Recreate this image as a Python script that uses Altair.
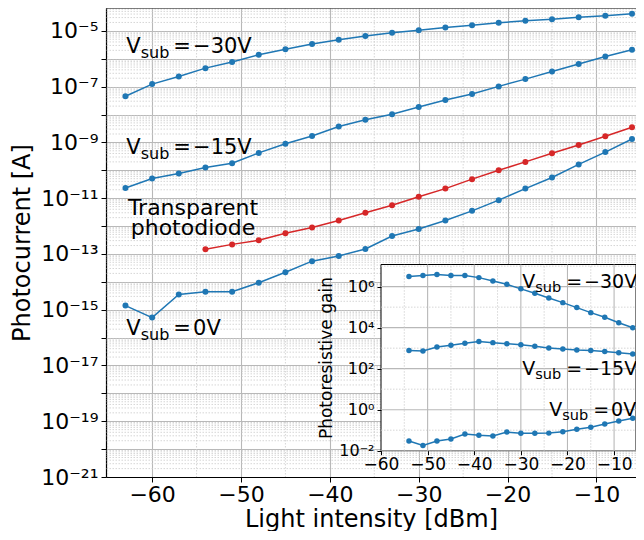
import altair as alt
import pandas as pd

FONT = "DejaVu Sans"
BLUE = "#1f77b4"
RED = "#d62728"

# ---------------- main plot data ----------------
x_main = [-63, -60, -57, -54, -51, -48, -45, -42, -39, -36, -33, -30, -27, -24, -21, -18, -15, -12, -9, -6]
i_m30 = [4.5e-8, 1.23e-7, 2.3e-7, 4.6e-7, 7.6e-7, 1.4e-6, 2.2e-6, 3.4e-6, 4.8e-6, 6.5e-6,
         8.5e-6, 1.05e-5, 1.32e-5, 1.58e-5, 1.95e-5, 2.3e-5, 2.6e-5, 3.1e-5, 3.5e-5, 4.1e-5]
i_m15 = [2.3e-11, 5.1e-11, 7.6e-11, 1.26e-10, 1.8e-10, 4.2e-10, 8.9e-10, 1.7e-9, 3.7e-9, 6.5e-9,
         1.02e-8, 1.86e-8, 3.3e-8, 5.4e-8, 1.02e-7, 1.86e-7, 3.5e-7, 6.5e-7, 1.2e-6, 2.1e-6]
i_0 = [1.4e-15, 5.2e-16, 3.5e-15, 4.4e-15, 4.4e-15, 9.3e-15, 2.2e-14, 5.5e-14, 8.5e-14, 1.5e-13,
       4.4e-13, 7.8e-13, 1.58e-12, 3.5e-12, 8.5e-12, 2.2e-11, 5.5e-11, 1.62e-10, 4.5e-10, 1.32e-9]
x_tpd = [-54, -51, -48, -45, -42, -39, -36, -33, -30, -27, -24, -21, -18, -15, -12, -9, -6]
i_tpd = [1.48e-13, 2.2e-13, 3.1e-13, 5.5e-13, 8.9e-13, 1.58e-12, 3.0e-12, 5.6e-12, 1.12e-11, 2.2e-11,
         4.8e-11, 1.0e-10, 2.0e-10, 4.1e-10, 8.1e-10, 1.66e-9, 3.5e-9]

# ---------------- inset data ----------------
x_gain = [-54, -51, -48, -45, -42, -39, -36, -33, -30, -27, -24, -21, -18, -15, -12, -9, -6]
g_m30 = [3.1e6, 3.5e6, 3.9e6, 3.5e6, 3.5e6, 2.75e6, 1.9e6, 1.3e6, 7.8e5, 4.8e5, 2.8e5, 1.66e5,
         9.5e4, 5.4e4, 3.2e4, 1.74e4, 9.8e3]
g_m15 = [760, 720, 1150, 1380, 1740, 2090, 1860, 1660, 1450, 1230, 1020, 910, 810, 760, 680, 600, 525]
g_0 = [0.030, 0.018, 0.030, 0.037, 0.065, 0.056, 0.052, 0.081, 0.071, 0.071, 0.072, 0.085,
       0.110, 0.138, 0.20, 0.28, 0.38]

# ---------------- axes / ticks ----------------
main_x_domain = [-65.19, -5.55]
main_y_domain = [1e-21, 6.6e-5]
main_x_ticks = [-60, -50, -40, -30, -20, -10]
main_x_minor = [-65, -55, -45, -35, -25, -15]
main_y_exps = list(range(-21, -4))
main_y_label_exps = [-21, -19, -17, -15, -13, -11, -9, -7, -5]
main_y_labels = ["10⁻²¹", "10⁻¹⁹", "10⁻¹⁷", "10⁻¹⁵", "10⁻¹³", "10⁻¹¹", "10⁻⁹", "10⁻⁷", "10⁻⁵"]
inset_x_domain = [-60, -5.3]
inset_y_domain = [1e-2, 1.2e7]
inset_x_ticks = [-60, -50, -40, -30, -20, -10]
inset_x_minor = [-55, -45, -35, -25, -15]
inset_y_exps = [-2, -1, 0, 1, 2, 3, 4, 5, 6, 7]
inset_y_label_exps = [-2, 0, 2, 4, 6]
inset_y_labels = ["10⁻²", "10⁰", "10²", "10⁴", "10⁶"]

# annotation anchors (data coordinates)
main_labels = pd.DataFrame({
    "x": [-62.9, -62.9, -62.9],
    "y": [1.58e-6, 3.7e-10, 1.2e-16],
    "tail": ["=\u200a−30V", "=\u200a−15V", "=\u200a0V"],
})
tpd_label = pd.DataFrame({"x": [-55.4], "y": [2.45e-12]})
inset_labels = pd.DataFrame({
    "x": [-29.7, -29.7, -23.9],
    "y": [8.3e5, 49.0, 0.49],
    "tail": ["=\u200a−30V", "=\u200a−15V", "=\u200a0V"],
})

# ---------------- build frames ----------------
rows = []
for name, xs, ys in [("m30", x_main, i_m30), ("m15", x_main, i_m15), ("v0", x_main, i_0), ("tpd", x_tpd, i_tpd)]:
    for a, b in zip(xs, ys):
        rows.append({"x": a, "y": b, "s": name})
main_df = pd.DataFrame(rows)

rows = []
for name, ys in [("m30", g_m30), ("m15", g_m15), ("v0", g_0)]:
    for a, b in zip(x_gain, ys):
        rows.append({"x": a, "y": b, "s": name})
gain_df = pd.DataFrame(rows)

color_scale = alt.Scale(domain=["m30", "m15", "v0", "tpd"], range=[BLUE, BLUE, BLUE, RED])

W, H = 530, 469
mx = alt.Scale(domain=main_x_domain, nice=False, zero=False, range=[0, W])
my = alt.Scale(type="log", domain=main_y_domain, nice=False, range=[H, 0])


def exp_label_expr(exps, labels):
    expr = "''"
    for e, lab in zip(reversed(exps), reversed(labels)):
        expr = "abs(log(datum.value)/LN10 - (%d)) < 0.01 ? '%s' : (%s)" % (e, lab, expr)
    return expr


GRID_C = "#b8b8b8"
MINOR_C = "#cccccc"

main_x_axis = alt.Axis(orient="bottom", values=main_x_ticks, title="Light intensity [dBm]", grid=True,
                       gridColor=GRID_C, gridWidth=1.1, labelFontSize=22, titleFontSize=24,
                       labelFlush=False, labelOverlap=False, tickSize=5, labelPadding=2,
                       titlePadding=2, domain=True, domainWidth=1.2)
main_y_axis = alt.Axis(orient="left", values=[10.0 ** e for e in main_y_exps], title="Photocurrent [A]",
                       grid=True, gridColor=GRID_C, gridWidth=1.1, labelFontSize=22, titleFontSize=24,
                       labelOverlap=False, tickSize=5, labelPadding=3, titlePadding=6,
                       domain=True, domainWidth=1.2,
                       labelExpr=exp_label_expr(main_y_label_exps, main_y_labels))

minor_y_vals = [k * 10.0 ** e for e in range(-21, -4) for k in range(2, 10)]
grid_y = alt.Chart(pd.DataFrame({"y": minor_y_vals})).mark_rule(
    color=MINOR_C, strokeWidth=0.8, strokeDash=[1.5, 1.5]).encode(
    y=alt.Y("y:Q", scale=my, axis=None))
grid_x = alt.Chart(pd.DataFrame({"x": main_x_minor})).mark_rule(
    color=MINOR_C, strokeWidth=0.8, strokeDash=[1.5, 1.5]).encode(
    x=alt.X("x:Q", scale=mx, axis=None))
top_border = alt.Chart(pd.DataFrame({"y": [main_y_domain[1]]})).mark_rule(
    color="black", strokeWidth=1.2).encode(y=alt.Y("y:Q", scale=my, axis=None))

main_lines = alt.Chart(main_df).mark_line(strokeWidth=1.5).encode(
    x=alt.X("x:Q", scale=mx, axis=main_x_axis),
    y=alt.Y("y:Q", scale=my, axis=main_y_axis),
    color=alt.Color("s:N", scale=color_scale, legend=None),
    detail="s:N",
)
main_pts = alt.Chart(main_df).mark_circle(size=36, opacity=1).encode(
    x=alt.X("x:Q", scale=mx, axis=None),
    y=alt.Y("y:Q", scale=my, axis=None),
    color=alt.Color("s:N", scale=color_scale, legend=None),
)


def sub_label_layers(df, xs, ys, size, subsize, dx_sub, dy_sub, dx_tail):
    base = alt.Chart(df).encode(x=alt.X("x:Q", scale=xs, axis=None), y=alt.Y("y:Q", scale=ys, axis=None))
    v = base.mark_text(text="V", align="left", baseline="alphabetic", fontSize=size, font=FONT, color="black")
    sub = base.mark_text(text="sub", align="left", baseline="alphabetic", fontSize=subsize, font=FONT,
                         color="black", dx=dx_sub, dy=dy_sub)
    tail = base.mark_text(align="left", baseline="alphabetic", fontSize=size, font=FONT, color="black",
                          dx=dx_tail).encode(text="tail:N")
    return [v, sub, tail]


tpd_text = alt.Chart(tpd_label).mark_text(
    text=["Transparent", "photodiode"], align="center", baseline="alphabetic", fontSize=22,
    font=FONT, color="black", lineHeight=20).encode(
    x=alt.X("x:Q", scale=mx, axis=None), y=alt.Y("y:Q", scale=my, axis=None))

# ---------------- inset ----------------
ix = alt.Scale(domain=inset_x_domain, nice=False, zero=False, range=[275, 530])
iy = alt.Scale(type="log", domain=inset_y_domain, nice=False, range=[442.7, 256.5])

box = alt.Chart(pd.DataFrame({"x0": [inset_x_domain[0]], "x1": [inset_x_domain[1]],
                              "y0": [inset_y_domain[0]], "y1": [inset_y_domain[1]]})).mark_rect(
    fill="white", stroke="black", strokeWidth=1).encode(
    x=alt.X("x0:Q", scale=ix, axis=None), x2="x1:Q",
    y=alt.Y("y0:Q", scale=iy, axis=None), y2="y1:Q")

ih = pd.DataFrame({"y": [10.0 ** e for e in inset_y_exps],
                   "major": [e % 2 == 0 for e in inset_y_exps],
                   "x0": inset_x_domain[0], "x1": inset_x_domain[1]})
iv = pd.DataFrame({"x": inset_x_ticks[1:] + inset_x_minor,
                   "major": [True] * (len(inset_x_ticks) - 1) + [False] * len(inset_x_minor),
                   "y0": inset_y_domain[0], "y1": inset_y_domain[1]})
ih_major = alt.Chart(ih[ih.major]).mark_rule(color=GRID_C, strokeWidth=1.1).encode(
    y=alt.Y("y:Q", scale=iy, axis=None), x=alt.X("x0:Q", scale=ix, axis=None), x2="x1:Q")
ih_minor = alt.Chart(ih[~ih.major]).mark_rule(color=MINOR_C, strokeWidth=0.8, strokeDash=[1.5, 1.5]).encode(
    y=alt.Y("y:Q", scale=iy, axis=None), x=alt.X("x0:Q", scale=ix, axis=None), x2="x1:Q")
iv_major = alt.Chart(iv[iv.major]).mark_rule(color=GRID_C, strokeWidth=1.1).encode(
    x=alt.X("x:Q", scale=ix, axis=None), y=alt.Y("y0:Q", scale=iy, axis=None), y2="y1:Q")
iv_minor = alt.Chart(iv[~iv.major]).mark_rule(color=MINOR_C, strokeWidth=0.8, strokeDash=[1.5, 1.5]).encode(
    x=alt.X("x:Q", scale=ix, axis=None), y=alt.Y("y0:Q", scale=iy, axis=None), y2="y1:Q")

inset_lines = alt.Chart(gain_df).mark_line(strokeWidth=1.5, color=BLUE).encode(
    x=alt.X("x:Q", scale=ix, axis=alt.Axis(orient="bottom", offset=-26.3, values=inset_x_ticks,
                                           grid=False, domain=False, tickSize=4, labelFontSize=17,
                                           labelFlush=False, labelOverlap=False, labelPadding=2,
                                           title=None, zindex=1)),
    y=alt.Y("y:Q", scale=iy, axis=alt.Axis(orient="left", offset=-275, values=[10.0 ** e for e in inset_y_label_exps],
                                           grid=False, domain=False, tickSize=4, labelFontSize=16,
                                           labelOverlap=False, labelPadding=3, title="Photoresistive gain",
                                           titleFontSize=17, titlePadding=3, zindex=1,
                                           labelExpr=exp_label_expr(inset_y_label_exps, inset_y_labels))),
    detail="s:N",
)
inset_pts = alt.Chart(gain_df).mark_circle(size=30, opacity=1, color=BLUE).encode(
    x=alt.X("x:Q", scale=ix, axis=None), y=alt.Y("y:Q", scale=iy, axis=None))

chart = alt.layer(
    grid_y, grid_x, top_border, main_lines, main_pts,
    *sub_label_layers(main_labels, mx, my, 21, 16, 14.4, 4.5, 47),
    tpd_text,
    box, ih_major, ih_minor, iv_major, iv_minor, inset_lines, inset_pts,
    *sub_label_layers(inset_labels, ix, iy, 19, 14.5, 13, 4, 44),
).resolve_scale(x="independent", y="independent").properties(
    width=W, height=H,
    padding={"left": 98, "top": 0, "right": 0, "bottom": 54},
    autosize=alt.AutoSizeParams(type="none"),
).configure_axis(
    labelFont=FONT, titleFont=FONT, labelColor="black", titleColor="black",
    tickColor="black", domainColor="black", titleFontWeight="normal",
).configure_view(stroke=None)

chart.save("out.html", embed_options={"renderer": "svg", "actions": False})
